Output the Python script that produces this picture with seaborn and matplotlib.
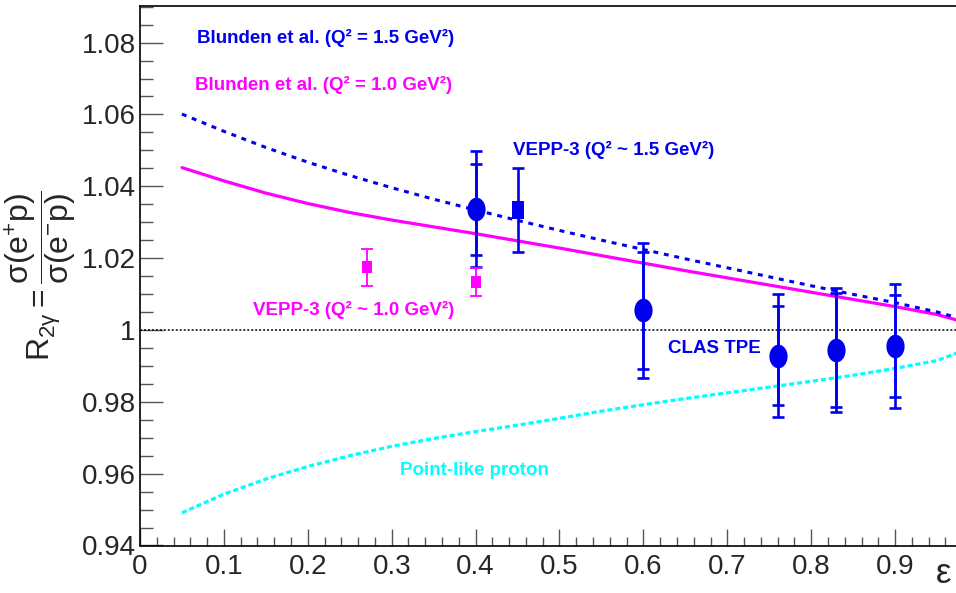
import numpy as np
import pandas as pd
import matplotlib
matplotlib.use("Agg")
import matplotlib.pyplot as plt
from matplotlib.path import Path
from matplotlib.ticker import MultipleLocator, FormatStrFormatter
import seaborn as sns

# ---------------- data ----------------
eps_b15 = [0.05, 0.10, 0.15, 0.20, 0.25, 0.30, 0.35, 0.40, 0.45, 0.50, 0.55, 0.60,
           0.65, 0.70, 0.75, 0.80, 0.85, 0.90, 0.95, 0.973]
r_b15 = [1.0601, 1.0553, 1.0508, 1.0467, 1.0430, 1.0396, 1.0364, 1.0334, 1.0305, 1.0277,
         1.0250, 1.0224, 1.0198, 1.0173, 1.0148, 1.0123, 1.0099, 1.0076, 1.0050, 1.0035]

eps_b10 = [0.05, 0.10, 0.15, 0.20, 0.25, 0.30, 0.35, 0.40, 0.45, 0.50, 0.55, 0.60,
           0.65, 0.70, 0.75, 0.80, 0.85, 0.90, 0.95, 0.973]
r_b10 = [1.0452, 1.0415, 1.0381, 1.0352, 1.0327, 1.0306, 1.0287, 1.0268, 1.0248, 1.0228,
         1.0207, 1.0186, 1.0165, 1.0145, 1.0125, 1.0105, 1.0085, 1.0065, 1.0043, 1.0028]

eps_pt = [0.05, 0.10, 0.15, 0.20, 0.25, 0.30, 0.35, 0.40, 0.45, 0.50, 0.55, 0.60,
          0.65, 0.70, 0.75, 0.80, 0.85, 0.90, 0.95, 0.973]
r_pt = [0.9491, 0.9543, 0.9585, 0.9620, 0.9650, 0.9676, 0.9698, 0.9717, 0.9735, 0.9754,
        0.9774, 0.9792, 0.9809, 0.9825, 0.9841, 0.9857, 0.9874, 0.9893, 0.9915, 0.9935]

clas_eps = [0.40, 0.60, 0.76, 0.83, 0.90]
clas_r = [1.0336, 1.0055, 0.9928, 0.9944, 0.9955]
clas_stat = [0.0127, 0.0163, 0.0138, 0.0159, 0.0141]
clas_tot = [0.0162, 0.0188, 0.0171, 0.0172, 0.0172]

v15_eps = [0.45]
v15_r = [1.0334]
v15_err = [0.0117]

v10_eps = [0.27, 0.40]
v10_r = [1.0174, 1.0134]
v10_err = [0.0051, 0.0039]

xticks = [0, 0.1, 0.2, 0.3, 0.4, 0.5, 0.6, 0.7, 0.8, 0.9]
yticks = [0.94, 0.96, 0.98, 1.00, 1.02, 1.04, 1.06, 1.08]

# ---------------- style ----------------
sns.set_style("ticks")
plt.rcParams["font.family"] = ["Liberation Sans", "DejaVu Sans"]
plt.rcParams["mathtext.fontset"] = "custom"
plt.rcParams["mathtext.rm"] = "Liberation Sans"
plt.rcParams["mathtext.it"] = "Liberation Sans"
plt.rcParams["mathtext.bf"] = "Liberation Sans:bold"

BLUE = "#0000ee"
MAG = "#ff00ff"
CYAN = "#00ffff"

fig = plt.figure(figsize=(9.56, 5.93), dpi=100)
ax = fig.add_axes([140 / 956, 47.5 / 593, 1 - 140 / 956, 539.2 / 593])

df_b15 = pd.DataFrame({"eps": eps_b15, "R": r_b15})
df_b10 = pd.DataFrame({"eps": eps_b10, "R": r_b10})
df_pt = pd.DataFrame({"eps": eps_pt, "R": r_pt})

ax.axhline(1.0, color="black", lw=1.1, ls=(0, (1.3, 1.3)), zorder=1)

sns.lineplot(data=df_b10, x="eps", y="R", ax=ax, color=MAG, lw=2.3, zorder=2)
sns.lineplot(data=df_b15, x="eps", y="R", ax=ax, color=BLUE, lw=2.2,
             ls=(0, (1.6, 1.9)), zorder=3)
sns.lineplot(data=df_pt, x="eps", y="R", ax=ax, color=CYAN, lw=2.3,
             ls=(0, (1.6, 0.9)), zorder=2)

# error bars (outer caps: total, inner caps: statistical)
ax.errorbar(clas_eps, clas_r, yerr=clas_tot, fmt="none", ecolor=BLUE, elinewidth=1.9,
            capsize=4, capthick=1.9, zorder=4)
ax.errorbar(clas_eps, clas_r, yerr=clas_stat, fmt="none", ecolor=BLUE, elinewidth=1.9,
            capsize=4, capthick=1.9, zorder=4)
ax.errorbar(v15_eps, v15_r, yerr=v15_err, fmt="none", ecolor=BLUE, elinewidth=1.9,
            capsize=4, capthick=1.9, zorder=4)
ax.errorbar(v10_eps, v10_r, yerr=v10_err, fmt="none", ecolor=MAG, elinewidth=1.3,
            capsize=4, capthick=1.3, zorder=4)

# markers
t = np.linspace(0, 2 * np.pi, 60)
ellipse = Path(np.column_stack([0.77 * np.cos(t), np.sin(t)]), closed=True)
rect = Path([(-0.72, -1), (0.72, -1), (0.72, 1), (-0.72, 1), (-0.72, -1)], closed=True)
rect2 = Path([(-0.82, -1), (0.82, -1), (0.82, 1), (-0.82, 1), (-0.82, -1)], closed=True)

sns.scatterplot(x=clas_eps, y=clas_r, ax=ax, marker=ellipse, s=17 ** 2, color=BLUE,
                linewidth=0, zorder=5)
sns.scatterplot(x=v15_eps, y=v15_r, ax=ax, marker=rect, s=12.5 ** 2, color=BLUE,
                linewidth=0, zorder=5)
sns.scatterplot(x=v10_eps, y=v10_r, ax=ax, marker=rect2, s=9 ** 2, color=MAG,
                linewidth=0, zorder=5)

# texts
tfont = dict(fontsize=13.5, fontweight="bold", ha="left", va="center")
ax.text(0.068, 1.0813, "Blunden et al. (Q² = 1.5 GeV²)", color=BLUE, **tfont)
ax.text(0.066, 1.0682, "Blunden et al. (Q² = 1.0 GeV²)", color=MAG, **tfont)
ax.text(0.4446, 1.0500, "VEPP-3 (Q² ~ 1.5 GeV²)", color=BLUE, **tfont)
ax.text(0.1347, 1.0057, "VEPP-3 (Q² ~ 1.0 GeV²)", color=MAG, **tfont)
ax.text(0.629, 0.9948, "CLAS TPE", color=BLUE, **tfont)
ax.text(0.310, 0.9610, "Point-like proton", color=CYAN, **tfont)

# axes
ax.set_xlim(0, 0.9726)
ax.set_ylim(0.94, 1.0901)
ax.set_xticks(xticks)
ax.set_yticks(yticks)
ax.xaxis.set_minor_locator(MultipleLocator(0.02))
ax.yaxis.set_minor_locator(MultipleLocator(0.005))
ax.xaxis.set_major_formatter(FormatStrFormatter("%g"))
ax.yaxis.set_major_formatter(FormatStrFormatter("%g"))
ax.tick_params(axis="both", which="both", direction="in", color="#555555", width=1.0,
               labelsize=20, top=False, right=False)
ax.tick_params(axis="y", which="major", length=16.5, pad=3)
ax.tick_params(axis="y", which="minor", length=9)
ax.tick_params(axis="x", which="major", length=12.5, pad=6)
ax.tick_params(axis="x", which="minor", length=6.5)
for s in ["left", "bottom", "top"]:
    ax.spines[s].set_visible(True)
    ax.spines[s].set_linewidth(1.2)
    ax.spines[s].set_color("black")
ax.spines["right"].set_visible(False)
ax.set_xlabel("")
ax.set_ylabel("")

fig.text(41 / 956, 0.535,
         r"$\mathrm{R}_{2\gamma} = \dfrac{\sigma(\mathrm{e}^{+}\mathrm{p})}{\sigma(\mathrm{e}^{-}\mathrm{p})}$",
         rotation=90, fontsize=23, ha="center", va="center")
fig.text(951 / 956, 3 / 593, "ε", fontsize=25, ha="right", va="bottom")

fig.savefig("out.png", dpi=100)
